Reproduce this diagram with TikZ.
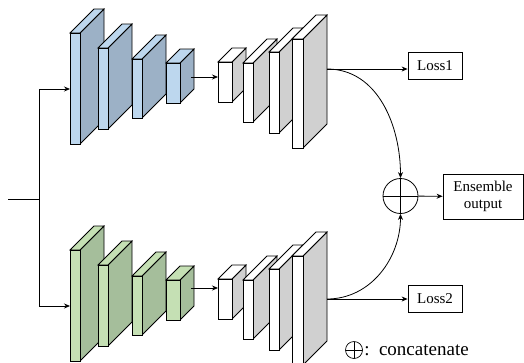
\documentclass[tikz,border=0pt]{standalone}
\usepackage{fontspec}
\setmainfont{Liberation Serif}
\usetikzlibrary{arrows.meta,positioning}
\definecolor{BlueF}{HTML}{BDD7EE}
\definecolor{BlueS}{HTML}{9CB1C6}
\definecolor{GreenF}{HTML}{C5E0B4}
\definecolor{GreenS}{HTML}{A5BE9B}
\definecolor{GrayS}{HTML}{D0D0D0}

% 3D layer: x, y, width, height, depth, front fill, side fill
\newcommand{\layer}[7]{%
  \begin{scope}[shift={(#1,#2)}]
    \filldraw[fill=#7] (#3,0) -- ++(#5,-#5) -- ++(0,#4) -- ++(-#5,#5) -- cycle;
    \filldraw[fill=#6] (0,0) -- ++(#5,-#5) -- ++(#3,0) -- ++(-#5,#5) -- cycle;
    \filldraw[fill=#6] (0,0) rectangle (#3,#4);
  \end{scope}}

% encoder-decoder branch: prefix, shift, front, side, y of link, y of output
\newcommand{\branch}[6]{%
  \begin{scope}[shift={(0,#2)}]
    \layer{70}{33}{10}{111}{24}{#3}{#4}
    \layer{98}{48}{10}{81}{24}{#3}{#4}
    \layer{132}{59}{10}{59}{24}{#3}{#4}
    \layer{166}{63}{14}{40}{14}{#3}{#4}
    \layer{218}{62}{14}{40}{14}{white}{GrayS}
    \layer{243}{63}{10}{59}{24}{white}{GrayS}
    \layer{269}{52}{10}{81}{24}{white}{GrayS}
    \layer{292}{39}{11}{109}{24}{white}{GrayS}
    \coordinate (#1-in) at (70,89);
    \coordinate (#1-enc) at (191,#5);
    \coordinate (#1-dec) at (218,#5);
    \coordinate (#1-out) at (327,#6);
  \end{scope}
  \draw[->] (#1-enc) -- (#1-dec);}

\begin{document}
\begin{tikzpicture}[x=1pt,y=-1pt,line width=0.8pt,
    >={Stealth[length=6pt,width=5pt]},
    box/.style={draw,inner sep=0pt,font=\fontsize{15}{17}\selectfont},
    oplus/.style={circle,draw,inner sep=0pt,
      path picture={\draw (path picture bounding box.north) -- (path picture bounding box.south)
        (path picture bounding box.west) -- (path picture bounding box.east);}}]
  \useasboundingbox (0,0) rectangle (524,362);
  \branch{a}{0}{BlueF}{BlueS}{77}{69}
  \branch{b}{217}{GreenF}{GreenS}{71}{82}
  \coordinate (start) at (8,199);
  \coordinate (split) at (39,199);
  \draw (start) -- (split);
  \draw[->] (split) |- (a-in);
  \draw[->] (split) |- (b-in);
  \node[oplus,minimum size=35pt] (plus) at (400.5,196) {};
  \node[box,minimum width=54pt,minimum height=27pt] (loss1) at (435,65.5) {Loss1};
  \node[box,minimum width=54pt,minimum height=27pt] (loss2) at (435,298.5) {Loss2};
  \node[box,align=center,minimum width=80pt,minimum height=45pt] (ens) at (483,196.5) {Ensemble\\output};
  \draw[->] (a-out) -- (a-out -| loss1.west);
  \draw[->] (b-out) -- (b-out -| loss2.west);
  \draw[->] (a-out) to[out=0,in=90] (plus.north);
  \draw[->] (b-out) to[out=0,in=-90] (plus.south);
  \draw[->] (plus) -- (ens);
  \node[oplus,minimum size=17pt,line width=0.7pt] (keysym) at (354,350) {};
  \node[right=1pt of keysym,font=\fontsize{19}{21}\selectfont,inner sep=0pt] (keytext) {:\, concatenate};
\end{tikzpicture}
\end{document}
